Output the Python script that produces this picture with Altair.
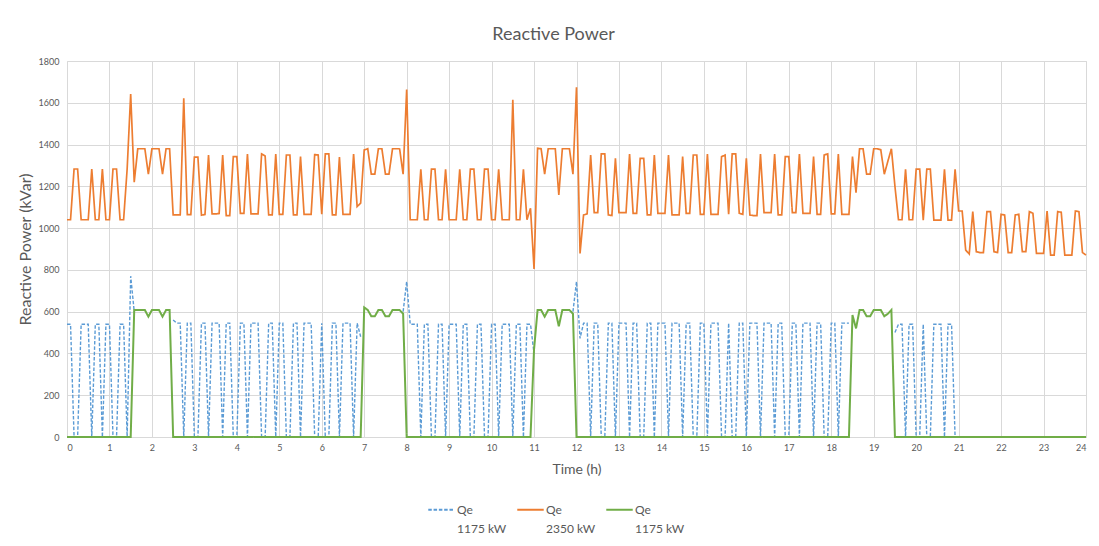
import altair as alt
import pandas as pd

# sampling step of the recorded series (minutes)
STEP_MIN = 5

N = None

# Qe of the 2350 kW unit (kVar), one row per hour, 5-min samples
q_2350 = [
    1040, 1040, 1283, 1283, 1040, 1040, 1040, 1283, 1040, 1040, 1283, 1040,
    1040, 1283, 1283, 1040, 1040, 1283, 1642, 1220, 1380, 1380, 1380, 1258,
    1380, 1380, 1380, 1258, 1380, 1380, 1063, 1063, 1063, 1622, 1065, 1065,
    1340, 1340, 1062, 1065, 1350, 1068, 1068, 1070, 1350, 1060, 1060, 1342,
    1342, 1071, 1071, 1355, 1068, 1068, 1068, 1355, 1345, 1063, 1063, 1355,
    1066, 1066, 1350, 1350, 1063, 1063, 1342, 1066, 1066, 1066, 1352, 1350,
    1066, 1355, 1355, 1063, 1063, 1340, 1066, 1066, 1066, 1355, 1103, 1120,
    1374, 1380, 1258, 1258, 1380, 1380, 1258, 1258, 1380, 1380, 1380, 1258,
    1663, 1040, 1040, 1040, 1282, 1040, 1040, 1282, 1282, 1040, 1040, 1282,
    1040, 1040, 1040, 1282, 1040, 1040, 1282, 1282, 1040, 1040, 1282, 1282,
    1040, 1040, 1282, 1040, 1040, 1040, 1614, 1040, 1040, 1282, 1040, 1095,
    804, 1382, 1380, 1258, 1380, 1380, 1380, 1159, 1380, 1380, 1380, 1258,
    1674, 879, 1063, 1068, 1350, 1074, 1074, 1355, 1355, 1063, 1060, 1334,
    1074, 1074, 1074, 1355, 1071, 1071, 1334, 1334, 1063, 1063, 1350, 1071,
    1071, 1071, 1350, 1063, 1063, 1063, 1342, 1071, 1071, 1350, 1350, 1066,
    1066, 1355, 1066, 1066, 1066, 1342, 1350, 1066, 1355, 1355, 1071, 1066,
    1334, 1063, 1060, 1060, 1355, 1074, 1074, 1074, 1355, 1063, 1063, 1342,
    1342, 1074, 1074, 1355, 1071, 1071, 1071, 1342, 1066, 1066, 1350, 1355,
    1068, 1068, 1355, 1066, 1066, 1066, 1342, 1170, 1380, 1380, 1258, 1258,
    1380, 1380, 1375, 1258, 1320, 1380, 1200, 1040, 1040, 1282, 1040, 1040,
    1282, 1282, 1038, 1282, 1282, 1038, 1038, 1038, 1282, 1038, 1038, 1282,
    1082, 1082, 895, 876, 1079, 887, 883, 883, 1079, 1079, 887, 883,
    1066, 1063, 883, 883, 1063, 1066, 887, 887, 1079, 1071, 879, 879,
    879, 1082, 871, 871, 1079, 1076, 871, 871, 871, 1082, 1079, 883,
    871,
]

# Qe of the first 1175 kW unit (kVar), dashed blue; None = not running
q_1175_a = [
    540, 540, 0, 0, 540, 540, 540, 0, 540, 540, 0, 540,
    540, 0, 0, 540, 540, 0, 770, 600, N, N, N, N,
    N, N, N, N, N, N, 560, 545, 545, 0, 545, 545,
    0, 0, 545, 545, 0, 545, 545, 545, 0, 545, 545, 0,
    0, 545, 545, 0, 545, 545, 545, 0, 0, 545, 545, 0,
    545, 545, 0, 0, 545, 545, 0, 545, 545, 545, 0, 0,
    545, 0, 0, 545, 545, 0, 545, 545, 545, 0, 545, 480,
    N, N, N, N, N, N, N, N, N, N, N, 600,
    744, 540, 540, 540, 0, 540, 540, 0, 0, 540, 540, 0,
    540, 540, 540, 0, 540, 540, 0, 0, 540, 540, 0, 0,
    540, 540, 0, 540, 540, 540, 0, 540, 540, 0, 540, 540,
    400, N, N, N, N, N, N, N, N, N, N, 600,
    744, 472, 545, 545, 0, 545, 545, 0, 0, 545, 545, 0,
    545, 545, 545, 0, 545, 545, 0, 0, 545, 545, 0, 545,
    545, 545, 0, 545, 545, 545, 0, 545, 545, 0, 0, 545,
    545, 0, 545, 545, 545, 0, 0, 545, 0, 0, 545, 545,
    0, 545, 545, 545, 0, 545, 545, 545, 0, 545, 545, 0,
    0, 545, 545, 0, 545, 545, 545, 0, 545, 545, 0, 0,
    545, 545, 0, 545, 545, 545, N, N, N, N, N, N,
    N, N, N, N, N, N, 500, 540, 540, 0, 540, 540,
    0, 0, 540, 0, 0, 540, 540, 540, 0, 540, 540, 0,
    N, N, N, N, N, N, N, N, N, N, N, N,
    N, N, N, N, N, N, N, N, N, N, N, N,
    N, N, N, N, N, N, N, N, N, N, N, N,
    N,
]

# Qe of the second 1175 kW unit (kVar), green
q_1175_b = [
    0, 0, 0, 0, 0, 0, 0, 0, 0, 0, 0, 0,
    0, 0, 0, 0, 0, 0, 0, 608, 608, 608, 608, 576,
    608, 608, 608, 576, 608, 608, 0, 0, 0, 0, 0, 0,
    0, 0, 0, 0, 0, 0, 0, 0, 0, 0, 0, 0,
    0, 0, 0, 0, 0, 0, 0, 0, 0, 0, 0, 0,
    0, 0, 0, 0, 0, 0, 0, 0, 0, 0, 0, 0,
    0, 0, 0, 0, 0, 0, 0, 0, 0, 0, 0, 0,
    620, 608, 578, 578, 608, 608, 578, 578, 608, 608, 608, 590,
    0, 0, 0, 0, 0, 0, 0, 0, 0, 0, 0, 0,
    0, 0, 0, 0, 0, 0, 0, 0, 0, 0, 0, 0,
    0, 0, 0, 0, 0, 0, 0, 0, 0, 0, 0, 0,
    420, 608, 608, 576, 608, 608, 608, 530, 608, 608, 608, 590,
    0, 0, 0, 0, 0, 0, 0, 0, 0, 0, 0, 0,
    0, 0, 0, 0, 0, 0, 0, 0, 0, 0, 0, 0,
    0, 0, 0, 0, 0, 0, 0, 0, 0, 0, 0, 0,
    0, 0, 0, 0, 0, 0, 0, 0, 0, 0, 0, 0,
    0, 0, 0, 0, 0, 0, 0, 0, 0, 0, 0, 0,
    0, 0, 0, 0, 0, 0, 0, 0, 0, 0, 0, 0,
    0, 0, 0, 0, 0, 0, 584, 520, 608, 608, 578, 578,
    608, 608, 608, 578, 590, 608, 0, 0, 0, 0, 0, 0,
    0, 0, 0, 0, 0, 0, 0, 0, 0, 0, 0, 0,
    0, 0, 0, 0, 0, 0, 0, 0, 0, 0, 0, 0,
    0, 0, 0, 0, 0, 0, 0, 0, 0, 0, 0, 0,
    0, 0, 0, 0, 0, 0, 0, 0, 0, 0, 0, 0,
    0,
]

series_keys = ["a", "o", "b"]
series_values = {"a": q_1175_a, "o": q_2350, "b": q_1175_b}
series_colors = ["#5b9bd5", "#ed7d31", "#70ad47"]
series_dash = [[3.5, 1.8], [1, 0], [1, 0]]
series_width = {"a": 1.4, "o": 1.7, "b": 2.0}

x_ticks = list(range(0, 25))
y_ticks = list(range(0, 1801, 200))

rows = []
for key in series_keys:
    for i, v in enumerate(series_values[key]):
        rows.append({"t": i * STEP_MIN / 60.0, "q": v, "s": key})
df = pd.DataFrame(rows)

FONT = "Lato"
TXT = "#595959"
GRID = "#d9d9d9"

legend = alt.Legend(
    title=None,
    orient="none",
    legendX=360,
    legendY=434,
    direction="horizontal",
    columns=3,
    symbolType="stroke",
    symbolSize=700,
    symbolStrokeWidth=2,
    labelFont=FONT,
    labelFontSize=12,
    labelColor=TXT,
    labelOffset=1,
    labelBaseline="middle",
    columnPadding=6,
    labelExpr="datum.value == 'o' ? ['Qe', '2350 kW'] : ['Qe', '1175 kW']",
)

color = alt.Color("s:N", scale=alt.Scale(domain=series_keys, range=series_colors), legend=legend)
dash = alt.StrokeDash("s:N", scale=alt.Scale(domain=series_keys, range=series_dash), legend=legend)

x = alt.X(
    "t:Q",
    scale=alt.Scale(domain=[0, 24], nice=False, zero=False),
    axis=alt.Axis(
        values=x_ticks, title="Time (h)", grid=True, gridColor=GRID, domainColor=GRID,
        ticks=False, labelFont=FONT, labelFontSize=9, labelColor=TXT, labelPadding=6,
        titleFont=FONT, titleFontSize=14, titleColor=TXT, titleFontWeight="normal", titlePadding=10,
    ),
)
y = alt.Y(
    "q:Q",
    scale=alt.Scale(domain=[0, 1800], nice=False),
    axis=alt.Axis(
        values=y_ticks, format="d", title="Reactive Power (kVar)", grid=True, gridColor=GRID,
        domain=False, ticks=False, labelFont=FONT, labelFontSize=9, labelColor=TXT, labelPadding=8,
        titleFont=FONT, titleFontSize=16, titleColor=TXT, titleFontWeight="normal", titlePadding=5,
    ),
)

layers = []
for key in series_keys:
    layers.append(
        alt.Chart(df)
        .transform_filter(alt.datum.s == key)
        .mark_line(strokeWidth=series_width[key])
        .encode(x=x, y=y, color=color, strokeDash=dash)
    )

chart = (
    alt.layer(*layers)
    .properties(
        width=1019,
        height=376,
        autosize=alt.AutoSizeParams(type="none"),
        padding={"left": 59, "top": 53, "right": 5, "bottom": 101},
        title=alt.Title("Reactive Power", font=FONT, fontSize=18, color=TXT, fontWeight="normal",
                        offset=13, dx=-23),
    )
    .configure_view(stroke=None)
    .configure(background="white", style={"guide-label": {"lineHeight": 19}})
)

chart.save("out.html", embed_options={"renderer": "svg", "actions": False})
